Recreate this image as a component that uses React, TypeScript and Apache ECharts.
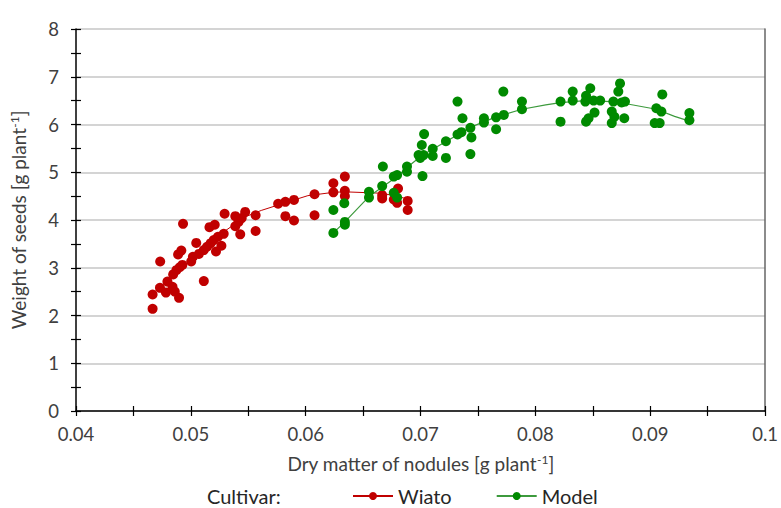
import React, { useEffect, useRef } from "react";
import * as echarts from "echarts";

const xTicks = [0.04, 0.05, 0.06, 0.07, 0.08, 0.09, 0.1];
const yTicks = [0, 1, 2, 3, 4, 5, 6, 7, 8];

const wiatoPoints: [number, number][] = [
  [0.04667, 2.14], [0.04667, 2.44], [0.04731, 2.58], [0.04783, 2.48], [0.04796, 2.71],
  [0.0484, 2.6], [0.0486, 2.5], [0.04897, 2.37], [0.04846, 2.86], [0.04874, 2.95],
  [0.04903, 3.01], [0.04926, 3.06], [0.04733, 3.13], [0.04889, 3.28], [0.04917, 3.36],
  [0.04932, 3.92], [0.05003, 3.13], [0.05018, 3.23], [0.05047, 3.52], [0.0507, 3.29],
  [0.05113, 2.72], [0.05113, 3.37], [0.05141, 3.44], [0.05171, 3.51], [0.05162, 3.85],
  [0.05208, 3.9], [0.05199, 3.58], [0.05219, 3.34], [0.05266, 3.46], [0.05236, 3.65],
  [0.05286, 3.71], [0.05294, 4.13], [0.05387, 4.08], [0.05387, 3.87], [0.05473, 4.17],
  [0.05443, 4.04], [0.05415, 3.96], [0.0543, 3.7], [0.05564, 4.1], [0.05564, 3.77],
  [0.0576, 4.34], [0.05823, 4.38], [0.05898, 4.42], [0.05823, 4.08], [0.05898, 3.99],
  [0.06077, 4.54], [0.06077, 4.1], [0.06241, 4.77], [0.06241, 4.58], [0.06341, 4.91],
  [0.06341, 4.61], [0.06341, 4.5], [0.06666, 4.52], [0.06666, 4.45], [0.06767, 4.43],
  [0.06804, 4.66], [0.06796, 4.36], [0.06888, 4.4], [0.06888, 4.21],
];

const modelPoints: [number, number][] = [
  [0.06241, 3.73], [0.06241, 4.21], [0.06341, 3.96], [0.06341, 3.9], [0.06336, 4.35],
  [0.06551, 4.59], [0.06551, 4.47], [0.06666, 4.71], [0.06672, 5.12], [0.06767, 4.57],
  [0.06796, 4.47], [0.06767, 4.91], [0.06796, 4.94], [0.06882, 5.12], [0.06882, 5.01],
  [0.07017, 4.92], [0.06983, 5.36], [0.06997, 5.3], [0.07026, 5.36], [0.07011, 5.57],
  [0.07031, 5.8], [0.07106, 5.49], [0.07106, 5.34], [0.07221, 5.65], [0.07221, 5.3],
  [0.07322, 6.48], [0.07322, 5.79], [0.07356, 5.84], [0.07365, 6.13], [0.07434, 5.93],
  [0.07443, 5.73], [0.07434, 5.38], [0.07552, 6.13], [0.07552, 6.04], [0.07658, 6.15],
  [0.07658, 5.9], [0.07725, 6.2], [0.07721, 6.69], [0.07883, 6.48], [0.07883, 6.32],
  [0.08219, 6.48], [0.08219, 6.06], [0.08325, 6.69], [0.08325, 6.5], [0.08441, 6.6],
  [0.08478, 6.76], [0.08441, 6.06], [0.08463, 6.13], [0.08515, 6.25], [0.08507, 6.5],
  [0.08564, 6.5], [0.08435, 6.48], [0.08737, 6.86], [0.08722, 6.69], [0.08679, 6.48],
  [0.08751, 6.46], [0.0878, 6.48], [0.08665, 6.27], [0.08665, 6.03], [0.08688, 6.16],
  [0.08774, 6.13], [0.09105, 6.63], [0.09053, 6.34], [0.09097, 6.27], [0.09039, 6.03],
  [0.09082, 6.03], [0.09341, 6.24], [0.09341, 6.09],
];

const wiatoFit: [number, number][] = [
  [0.04664, 2.45], [0.04854, 2.85], [0.0507, 3.33], [0.05286, 3.75], [0.05467, 4.06],
  [0.05613, 4.2], [0.05846, 4.38], [0.06019, 4.51], [0.06243, 4.58], [0.06338, 4.59],
  [0.06666, 4.56], [0.06804, 4.49], [0.06888, 4.44],
];

const modelFit: [number, number][] = [
  [0.06241, 3.73], [0.06341, 3.96], [0.06551, 4.49], [0.06796, 4.91], [0.06882, 5.1],
  [0.07011, 5.35], [0.07226, 5.65], [0.07443, 5.95], [0.07658, 6.16], [0.07883, 6.32],
  [0.0809, 6.41], [0.08219, 6.46], [0.08435, 6.5], [0.08665, 6.48], [0.0878, 6.44],
  [0.09053, 6.32], [0.09212, 6.17], [0.09341, 6.07],
];

const RED = "#C00000";
const GREEN = "#008A00";
const FONT = "Lato, 'Open Sans', sans-serif";
const TEXT = "#404040";

export default function App() {
  const ref = useRef<HTMLDivElement>(null);
  useEffect(() => {
    if (!ref.current) return;
    const chart = echarts.init(ref.current, undefined, { renderer: "svg" });
    const baseX = {
      type: "value" as const,
      min: xTicks[0],
      max: xTicks[xTicks.length - 1],
      interval: 0.01,
      position: "bottom" as const,
    };
    const baseY = {
      type: "value" as const,
      min: yTicks[0],
      max: yTicks[yTicks.length - 1],
      interval: 1,
      position: "left" as const,
    };
    const tickStyle = { color: "#000", width: 1.2 };
    const supRich = {
      sup: { fontSize: 12, verticalAlign: "top", color: TEXT, fontFamily: FONT, padding: [0, 0, 9, 0] },
    };
    chart.setOption({
      animation: false,
      backgroundColor: "#ffffff",
      grid: { left: 76, right: 10, top: 29, bottom: 97, containLabel: false },
      xAxis: [
        {
          ...baseX,
          axisLine: { show: true, lineStyle: { color: "#000", width: 1.5 } },
          axisTick: { show: true, length: 5, lineStyle: tickStyle },
          minorTick: { show: true, splitNumber: 2, length: 5, lineStyle: tickStyle },
          axisLabel: {
            color: TEXT,
            fontSize: 18.5,
            fontFamily: FONT,
            margin: 13,
            formatter: (v: number) => String(Math.round(v * 100) / 100),
          },
          splitLine: { show: false },
          name: "Dry matter of nodules [g plant{sup|-1}]",
          nameLocation: "middle",
          nameGap: 42,
          nameTextStyle: { color: TEXT, fontSize: 19, fontFamily: FONT, rich: supRich },
        },
        {
          ...baseX,
          axisLine: { show: false },
          axisTick: { show: true, inside: true, length: 5, lineStyle: tickStyle },
          minorTick: { show: true, splitNumber: 2, length: 5, lineStyle: tickStyle },
          axisLabel: { show: false },
          splitLine: { show: false },
        },
      ],
      yAxis: [
        {
          ...baseY,
          axisLine: { show: true, lineStyle: { color: "#000", width: 1.5 } },
          axisTick: { show: true, length: 5, lineStyle: tickStyle },
          minorTick: { show: true, splitNumber: 2, length: 5, lineStyle: tickStyle },
          axisLabel: { color: TEXT, fontSize: 18.5, fontFamily: FONT, margin: 17 },
          splitLine: { show: true, lineStyle: { color: "#d4d4d4", width: 2 } },
          name: "Weight of seeds [g plant{sup|-1}]",
          nameLocation: "middle",
          nameGap: 47,
          nameTextStyle: { color: TEXT, fontSize: 19, fontFamily: FONT, rich: supRich },
        },
        {
          ...baseY,
          axisLine: { show: false },
          axisTick: { show: true, inside: true, length: 5, lineStyle: tickStyle },
          minorTick: { show: true, splitNumber: 2, length: 5, lineStyle: tickStyle },
          axisLabel: { show: false },
          splitLine: { show: false },
        },
        {
          ...baseY,
          position: "right" as const,
          axisLine: { show: true, lineStyle: { color: "#666", width: 1.5 } },
          axisTick: { show: false },
          axisLabel: { show: false },
          splitLine: { show: false },
        },
      ],
      legend: {
        left: 352,
        top: 486,
        padding: 0,
        itemWidth: 40,
        itemHeight: 10,
        itemGap: 44,
        textStyle: { color: "#262626", fontSize: 20, fontFamily: FONT, padding: [0, 0, 0, 0] },
        data: ["Wiato", "Model"],
      },
      graphic: [
        {
          type: "text",
          left: 207,
          top: 486,
          style: { text: "Cultivar:", fill: "#262626", font: `20px ${FONT}` },
        },
      ],
      series: [
        {
          name: "Wiato",
          type: "line",
          data: wiatoFit,
          symbol: "circle",
          symbolSize: 9,
          showSymbol: false,
          itemStyle: { color: RED },
          lineStyle: { color: RED, width: 1 },
          z: 2,
        },
        {
          name: "Model",
          type: "line",
          data: modelFit,
          symbol: "circle",
          symbolSize: 9,
          showSymbol: false,
          itemStyle: { color: GREEN },
          lineStyle: { color: "#3d9a3d", width: 1.2 },
          z: 2,
        },
        {
          name: "Wiato",
          type: "scatter",
          data: wiatoPoints,
          symbol: "circle",
          symbolSize: 10,
          itemStyle: { color: RED, opacity: 1 },
          z: 3,
        },
        {
          name: "Model",
          type: "scatter",
          data: modelPoints,
          symbol: "circle",
          symbolSize: 10,
          itemStyle: { color: GREEN, opacity: 1 },
          z: 4,
        },
      ],
    });
    return () => chart.dispose();
  }, []);
  return (
    <div
      ref={ref}
      style={{ position: "fixed", left: 0, top: 0, width: 781, height: 508, background: "#fff" }}
    />
  );
}
